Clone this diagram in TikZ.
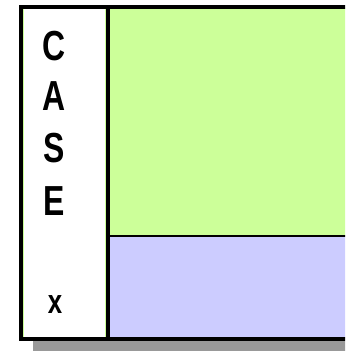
\documentclass[tikz,border=0pt]{standalone}
\usepackage{fontspec}
\setmainfont{Liberation Sans}
\newfontfamily\labelfont[FakeStretch=0.76]{Liberation Sans}
\definecolor{lightgreen}{HTML}{CCFF99}
\definecolor{lightviolet}{HTML}{CCCCFF}
\definecolor{shadowgrey}{HTML}{999999}
\tikzset{
  letter/.style={font=\labelfont\bfseries\fontsize{42}{42}\selectfont, inner sep=0pt},
  frame/.style={draw=black, line width=4pt},
}
\begin{document}
\begin{tikzpicture}[x=1pt, y=-1pt]
  \useasboundingbox (0,0) rectangle (345,352);
  \clip (0,0) rectangle (345,352);
  % drop shadow
  \fill[shadowgrey] (33,341) rectangle (360,351);
  % panels
  \fill[lightgreen] (21,7) rectangle (360,236);
  \fill[lightviolet] (108,236) rectangle (360,339);
  \fill[lightgreen] (21,236) rectangle (108,339);
  % label column
  \fill[white] (24,9) rectangle (105,339);
  % dividers
  \draw[black, line width=2pt] (108,236) -- (360,236);
  \draw[black, line width=4pt] (108,7) -- (108,339);
  % outer frame
  \draw[frame] (360,7) -- (21,7) -- (21,339) -- (360,339);
  % vertical title
  \node[letter] (c) at (54,46) {C};
  \node[letter] (a) at (54,96) {A};
  \node[letter] (s) at (54,148) {S};
  \node[letter] (e) at (54,201) {E};
  \node[letter, font=\labelfont\bfseries\fontsize{34}{34}\selectfont, anchor=base] (x) at (55,313) {x};
\end{tikzpicture}
\end{document}
